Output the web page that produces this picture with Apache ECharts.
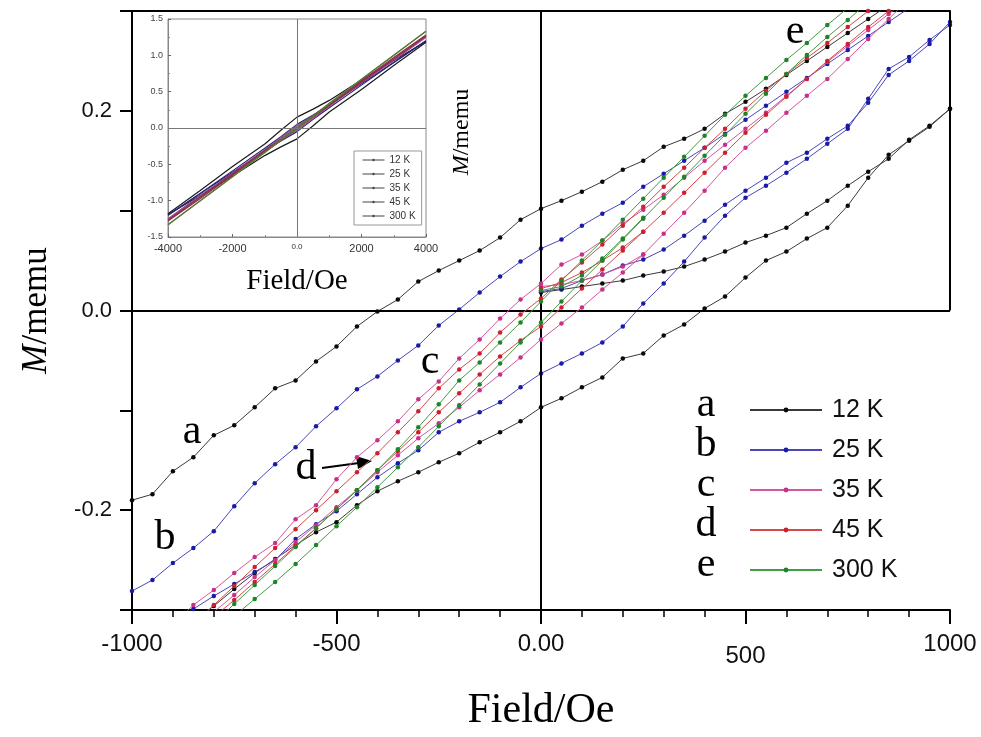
<!DOCTYPE html>
<html><head><meta charset="utf-8">
<script src="https://cdn.jsdelivr.net/npm/echarts@6/dist/echarts.min.js"></script>
<style>html,body{margin:0;padding:0;background:#fff}#c{width:981px;height:737px}</style>
</head><body><div id="c"></div>
<script>
// ---- data (Field in Oe, M in memu) ----
const temps = ['12 K', '25 K', '35 K', '45 K', '300 K'];
const fields = [-1000,-950,-900,-850,-800,-750,-700,-650,-600,-550,-500,-450,-400,-350,-300,-250,-200,-150,-100,-50,0,50,100,150,200,250,300,350,400,450,500,550,600,650,700,750,800,850,900,950,1000];
const fieldsPos = [0,50,100,150,200,250,300,350,400,450,500,550,600,650,700,750,800,850,900,950,1000];

const a_desc = [-0.190,-0.184,-0.161,-0.147,-0.125,-0.115,-0.097,-0.078,-0.070,-0.051,-0.036,-0.016,-0.001,0.011,0.029,0.040,0.050,0.060,0.073,0.091,0.102,0.110,0.119,0.129,0.141,0.150,0.164,0.172,0.182,0.197,0.209,0.222,0.236,0.250,0.264,0.278,0.292,0.306,null,null,null];
const a_asc = [null,null,null,-0.312,-0.296,-0.279,-0.263,-0.249,-0.235,-0.222,-0.212,-0.195,-0.181,-0.171,-0.162,-0.152,-0.143,-0.132,-0.122,-0.111,-0.097,-0.088,-0.077,-0.067,-0.048,-0.043,-0.025,-0.014,0.002,0.014,0.033,0.050,0.059,0.072,0.083,0.105,0.133,0.156,0.170,0.184,0.202];
const a_init = [0.018,0.021,0.024,0.027,0.030,0.035,0.039,0.044,0.051,0.059,0.068,0.075,0.083,0.097,0.110,0.125,0.139,0.152,0.171,0.185,0.202];

const b_desc = [-0.281,-0.270,-0.253,-0.238,-0.221,-0.196,-0.173,-0.154,-0.137,-0.116,-0.098,-0.079,-0.066,-0.050,-0.035,-0.015,0.001,0.018,0.034,0.049,0.062,0.071,0.085,0.097,0.108,0.124,0.137,0.150,0.163,0.177,0.191,0.205,0.219,0.233,0.247,0.261,0.275,0.289,0.303,null,null];
const b_asc = [null,null,-0.312,-0.299,-0.286,-0.274,-0.262,-0.250,-0.229,-0.214,-0.201,-0.184,-0.167,-0.153,-0.140,-0.122,-0.111,-0.102,-0.092,-0.077,-0.063,-0.053,-0.043,-0.032,-0.016,0.007,0.027,0.049,0.073,0.095,0.113,0.125,0.138,0.152,0.167,0.182,0.212,0.242,0.254,0.271,0.286];
const b_init = [0.019,0.022,0.030,0.036,0.045,0.051,0.061,0.075,0.090,0.106,0.120,0.133,0.148,0.158,0.172,0.185,0.208,0.236,0.250,0.267,0.289];

const c_desc = [null,null,-0.315,-0.295,-0.280,-0.263,-0.247,-0.233,-0.209,-0.195,-0.169,-0.147,-0.130,-0.111,-0.089,-0.071,-0.048,-0.029,-0.008,0.011,0.027,0.046,0.056,0.070,0.087,0.101,0.116,0.133,0.150,0.166,0.182,0.198,0.215,0.232,0.249,0.265,0.281,0.297,0.313,null,null];
const c_asc = [null,null,null,null,-0.302,-0.285,-0.267,-0.250,-0.232,-0.215,-0.197,-0.180,-0.162,-0.145,-0.128,-0.113,-0.097,-0.080,-0.064,-0.047,-0.029,-0.013,0.003,0.021,0.038,0.056,0.077,0.098,0.120,0.143,0.163,0.180,0.198,0.215,0.232,0.252,0.272,0.292,0.312,null,null];
const c_init = [0.024,0.026,0.030,0.036,0.044,0.056];

const d_desc = [null,null,null,-0.314,-0.295,-0.276,-0.257,-0.238,-0.219,-0.200,-0.181,-0.162,-0.143,-0.122,-0.101,-0.078,-0.059,-0.043,-0.022,-0.004,0.012,0.031,0.048,0.066,0.085,0.104,0.124,0.143,0.163,0.182,0.202,0.220,0.237,0.253,0.268,0.284,0.300,0.316,null,null,null];
const d_asc = [null,null,null,null,-0.307,-0.290,-0.272,-0.254,-0.236,-0.218,-0.199,-0.180,-0.160,-0.141,-0.122,-0.102,-0.083,-0.064,-0.046,-0.030,-0.016,0.003,0.022,0.041,0.060,0.079,0.098,0.118,0.138,0.158,0.178,0.196,0.214,0.232,0.250,0.267,0.284,0.300,0.316,null,null];
const d_init = [0.022,0.028,0.038,0.050,0.063,0.079];

const e_desc = [null,null,null,null,-0.313,-0.294,-0.275,-0.256,-0.237,-0.218,-0.199,-0.180,-0.160,-0.139,-0.117,-0.094,-0.070,-0.052,-0.032,-0.012,0.009,0.030,0.050,0.070,0.091,0.112,0.133,0.154,0.175,0.196,0.215,0.233,0.251,0.268,0.286,0.303,null,null,null,null,null];
const e_asc = [null,null,null,null,null,-0.306,-0.289,-0.272,-0.254,-0.235,-0.216,-0.197,-0.177,-0.157,-0.137,-0.116,-0.095,-0.074,-0.053,-0.032,-0.012,0.009,0.030,0.050,0.071,0.092,0.113,0.134,0.155,0.176,0.197,0.217,0.237,0.256,0.274,0.291,0.309,null,null,null,null];
const e_init = [0.020,0.024,0.035,0.052,0.072,0.093];

// inset (-4000..4000 Oe)
const insetFields = [-4000,-3000,-2000,-1000,-500,0,500,1000,2000,3000,4000];
const i12_desc = [-1.18,-0.86,-0.53,-0.22,-0.03,0.15,0.26,0.38,0.66,0.93,1.19];
const i12_asc = [-1.19,-0.93,-0.66,-0.38,-0.26,-0.15,0.03,0.22,0.53,0.86,1.18];
const i25_desc = [-1.20,-0.90,-0.59,-0.28,-0.12,0.05,0.18,0.32,0.61,0.90,1.20];
const i25_asc = [-1.20,-0.90,-0.61,-0.32,-0.18,-0.05,0.12,0.28,0.59,0.90,1.20];
const i35_desc = [-1.25,-0.93,-0.62,-0.30,-0.13,0.03,0.17,0.33,0.64,0.95,1.26];
const i35_asc = [-1.26,-0.95,-0.64,-0.33,-0.17,-0.03,0.13,0.30,0.62,0.93,1.25];
const i45_desc = [-1.27,-0.95,-0.63,-0.31,-0.15,0.01,0.17,0.33,0.65,0.97,1.28];
const i45_asc = [-1.28,-0.97,-0.65,-0.33,-0.17,-0.01,0.15,0.31,0.63,0.95,1.27];
const i300_desc = [-1.33,-1.00,-0.67,-0.33,-0.16,0.01,0.17,0.34,0.67,1.00,1.33];
const i300_asc = [-1.33,-1.00,-0.67,-0.34,-0.17,-0.01,0.16,0.33,0.67,1.00,1.33];

const xTickLabels = {'-1000':'{n|-1000}','-500':'{up|-500}','0':'{n|0.00}','500':'{lo|500}','1000':'{n|1000}'};
const yTickLabels = {'-0.2':'-0.2','0.0':'0.0','0.2':'0.2'};

// ---- styling ----
const lineColors = ['#3a3a3a', '#4848b8', '#d2579c', '#d44a4a', '#479a47'];
const dotColors  = ['#0a0a0a', '#1a1aa6', '#c8308a', '#cc2030', '#1e8428'];
const insetColors = ['#1a1a1a', '#26267e', '#9a4a8a', '#8e2a48', '#5a7a3a'];
const SERIF = '"Liberation Serif", "Times New Roman", serif';
const SANS = '"Liberation Sans", Arial, sans-serif';

function zip(xs, ys) {
  const out = [];
  const n = Math.min(xs.length, ys.length);
  for (let i = 0; i < n; i++) if (ys[i] !== null) out.push([xs[i], ys[i]]);
  return out;
}

const mainBranches = [[a_desc, a_asc], [b_desc, b_asc], [c_desc, c_asc], [d_desc, d_asc], [e_desc, e_asc]];
const initBranches = [a_init, b_init, c_init, d_init, e_init];
const insetBranches = [[i12_desc, i12_asc], [i25_desc, i25_asc], [i35_desc, i35_asc], [i45_desc, i45_asc], [i300_desc, i300_asc]];

const series = [];
temps.forEach((t, k) => {
  const base = {
    type: 'line', name: t, xAxisIndex: 0, yAxisIndex: 0,
    symbol: 'circle', symbolSize: 4.5, showSymbol: true, clip: true,
    lineStyle: { color: lineColors[k], width: 1 },
    itemStyle: { color: dotColors[k] },
    emphasis: { disabled: true }, z: 3 + k
  };
  mainBranches[k].forEach(arr => series.push(Object.assign({}, base, { data: zip(fields, arr) })));
  series.push(Object.assign({}, base, { data: zip(fieldsPos, initBranches[k]) }));
});
series[0].markLine = {
  silent: true, symbol: ['none', 'none'], label: { show: false },
  lineStyle: { color: '#000', width: 2, type: 'solid' },
  data: [{ xAxis: 0 }, { yAxis: 0 }, [{ coord: [1000, 0.3] }, { coord: [1000, 0] }]]
};
temps.forEach((t, k) => {
  insetBranches[k].forEach(arr => series.push({
    type: 'line', name: t, xAxisIndex: 1, yAxisIndex: 1,
    showSymbol: false, lineStyle: { color: insetColors[k], width: 1.2 },
    itemStyle: { color: insetColors[k] }, emphasis: { disabled: true },
    data: zip(insetFields, arr), z: 2
  }));
});
const firstInset = series.length - 10;
series[firstInset].markLine = {
  silent: true, symbol: ['none', 'none'], label: { show: false },
  lineStyle: { color: '#777', width: 1, type: 'solid' },
  data: [{ xAxis: 0 }, { yAxis: 0 }]
};

const letter = (t, x, y) => ({ type: 'text', x: x, y: y,
  style: { text: t, fontFamily: SERIF, fontSize: 42, fill: '#000', align: 'center', verticalAlign: 'middle' } });

const option = {
  animation: false,
  backgroundColor: '#fff',
  grid: [
    { left: 132, top: 11, width: 818, height: 606 },
    { left: 168, top: 19, width: 258, height: 218, show: true, borderColor: '#888', borderWidth: 1 }
  ],
  xAxis: [
    {
      type: 'value', gridIndex: 0, min: -1000, max: 1000, interval: 500,
      name: 'Field/Oe', nameLocation: 'middle', nameGap: 80,
      nameTextStyle: { fontFamily: SERIF, fontSize: 42, color: '#000' },
      axisLine: { show: true, onZero: false, lineStyle: { color: '#000', width: 2 } },
      axisTick: { show: true, length: 14, lineStyle: { color: '#000', width: 2 } },
      minorTick: { show: true, splitNumber: 5, length: 7, lineStyle: { color: '#000', width: 1.5 } },
      axisLabel: { fontFamily: SANS, fontSize: 24, color: '#111', margin: 22,
        formatter: v => xTickLabels[String(v)] || '',
        rich: {
          n: { fontFamily: SANS, fontSize: 24, color: '#111' },
          up: { fontFamily: SANS, fontSize: 24, color: '#111', padding: [0, 0, 6, 0] },
          lo: { fontFamily: SANS, fontSize: 24, color: '#111', padding: [12, 0, 0, 0] }
        } },
      splitLine: { show: false }
    },
    {
      type: 'value', gridIndex: 1, min: -4000, max: 4000, interval: 2000,
      name: 'Field/Oe', nameLocation: 'middle', nameGap: 30,
      nameTextStyle: { fontFamily: SERIF, fontSize: 29, color: '#000' },
      axisLine: { show: true, onZero: false, lineStyle: { color: '#888', width: 1 } },
      axisTick: { show: true, inside: true, length: 3, lineStyle: { color: '#666' } },
      minorTick: { show: true, splitNumber: 2, length: 2, lineStyle: { color: '#888' } },
      axisLabel: { fontFamily: SANS, fontSize: 11, color: '#333', margin: 6,
        formatter: v => v === 0 ? '{s|0.0}' : String(v),
        rich: { s: { fontSize: 8, fontFamily: SANS, color: '#333', padding: [0, 0, 8, 0] } } },
      splitLine: { show: false }
    },
    {
      type: 'value', gridIndex: 0, position: 'top', min: -1000, max: 1000,
      axisLine: { show: true, onZero: false, lineStyle: { color: '#000', width: 2 } },
      axisTick: { show: false }, axisLabel: { show: false }, splitLine: { show: false }
    }
  ],
  yAxis: [
    {
      type: 'value', gridIndex: 0, min: -0.3, max: 0.3, interval: 0.1,
      name: '{i|M}/memu', nameLocation: 'middle', nameGap: 78, nameRotate: 90,
      nameTextStyle: { fontFamily: SERIF, fontSize: 35, color: '#000',
        rich: { i: { fontFamily: SERIF, fontSize: 35, fontStyle: 'italic', color: '#000' } } },
      axisLine: { show: true, onZero: false, lineStyle: { color: '#000', width: 2 } },
      axisTick: { show: true, length: 12, lineStyle: { color: '#000', width: 2 } },
      axisLabel: { fontFamily: SANS, fontSize: 22, color: '#111', margin: 20,
        formatter: v => yTickLabels[(Math.round(v * 10) / 10).toFixed(1)] || '' },
      splitLine: { show: false }
    },
    {
      type: 'value', gridIndex: 1, min: -1.5, max: 1.5, interval: 0.5,
      axisLine: { show: true, onZero: false, lineStyle: { color: '#888', width: 1 } },
      axisTick: { show: true, inside: true, length: 3, lineStyle: { color: '#666' } },
      minorTick: { show: true, splitNumber: 2, length: 2, lineStyle: { color: '#888' } },
      axisLabel: { fontFamily: SANS, fontSize: 9, color: '#444', margin: 5,
        formatter: v => v.toFixed(1) },
      splitLine: { show: false }
    }
  ],
  legend: [
    {
      data: temps, selectedMode: false, orient: 'vertical', left: 744, top: 392,
      itemWidth: 72, itemHeight: 6, itemGap: 14,
      textStyle: { fontFamily: SANS, fontSize: 25, color: '#111', lineHeight: 26, padding: [0, 0, 0, 5] }
    },
    {
      data: temps, selectedMode: false, orient: 'vertical', left: 354, top: 151,
      itemWidth: 22, itemHeight: 3, itemGap: 4, padding: [4, 6, 4, 8],
      borderColor: '#999', borderWidth: 1,
      lineStyle: { color: '#444', width: 1 }, itemStyle: { color: '#444' },
      textStyle: { fontFamily: SANS, fontSize: 10, color: '#333', lineHeight: 10 }
    }
  ],
  graphic: [
    letter('a', 706, 405), letter('b', 706, 445), letter('c', 706, 485), letter('d', 706, 525), letter('e', 706, 565),
    letter('a', 192, 432), letter('b', 165, 538), letter('c', 430, 362), letter('d', 306, 468), letter('e', 795, 32),
    { type: 'line', shape: { x1: 322, y1: 468, x2: 359, y2: 463 }, style: { stroke: '#000', lineWidth: 2 } },
    { type: 'polygon', shape: { points: [[372, 461], [356, 456], [358, 469]] }, style: { fill: '#000' } },
    { type: 'text', x: 462, y: 132, rotation: Math.PI / 2,
      style: { text: '{i|M}/memu', fontFamily: SERIF, fontSize: 24, fill: '#000', align: 'center', verticalAlign: 'middle',
        rich: { i: { fontFamily: SERIF, fontSize: 24, fontStyle: 'italic', fill: '#000' } } } }
  ],
  series: series
};

const chart = echarts.init(document.getElementById('c'), null, { renderer: 'canvas' });
chart.setOption(option);
</script>
</body></html>
